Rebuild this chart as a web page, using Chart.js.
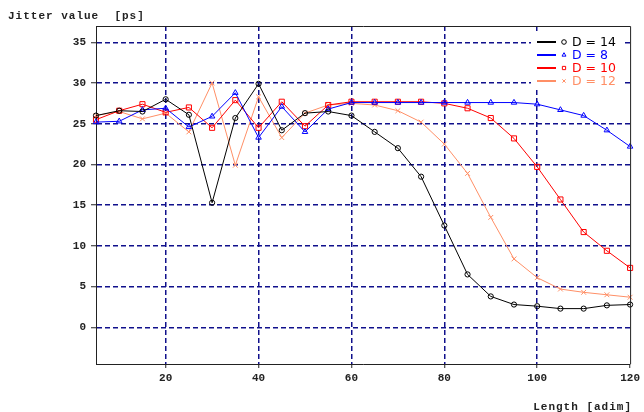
<!DOCTYPE html>
<html>
<head>
<meta charset="utf-8">
<script src="https://cdn.jsdelivr.net/npm/chart.js@4.4.1/dist/chart.umd.min.js"></script>
<style>
  body { margin: 0; background: #fff; }
</style>
</head>
<body>
<canvas id="jitterChart" width="644" height="412"></canvas>
<script>
// x values (Length, adim)
const lengths = [5, 10, 15, 20, 25, 30, 35, 40, 45, 50, 55, 60, 65, 70, 75, 80, 85, 90, 95, 100, 105, 110, 115, 120];

// jitter [ps]
const jitterD14 = [26.0, 26.6, 26.5, 28.0, 26.1, 15.3, 25.7, 29.9, 24.2, 26.3, 26.5, 26.0, 24.0, 22.0, 18.5, 12.5, 6.5, 3.8, 2.8, 2.6, 2.3, 2.3, 2.7, 2.8];
const jitterD8 = [25.2, 25.3, 26.7, 26.9, 24.6, 25.9, 28.8, 23.3, 27.1, 24.0, 26.8, 27.6, 27.6, 27.6, 27.6, 27.6, 27.6, 27.6, 27.6, 27.4, 26.7, 26.0, 24.2, 22.2];
const jitterD10 = [25.5, 26.6, 27.4, 26.4, 27.0, 24.5, 27.9, 24.5, 27.7, 24.7, 27.3, 27.7, 27.7, 27.7, 27.7, 27.5, 26.9, 25.7, 23.2, 19.7, 15.7, 11.7, 9.4, 7.3];
const jitterD12 = [26.0, 26.5, 25.6, 26.3, 24.0, 30.0, 19.9, 28.3, 23.3, 26.3, 27.3, 27.5, 27.3, 26.6, 25.2, 22.5, 18.9, 13.5, 8.4, 6.1, 4.7, 4.3, 4.0, 3.7];

const seriesLabels = ["D = 14", "D = 8", "D = 10", "D = 12"];
const xTicks = [20, 40, 60, 80, 100, 120];
const yTicks = [0, 5, 10, 15, 20, 25, 30, 35];

const COLORS = ["#000000", "#0000ff", "#ff0000", "#ff8f66"];
const POINT_STYLES = ["circle", "triangle", "rect", "crossRot"];
const POINT_RADIUS = [2.6, 3.2, 3.6, 3.4];
const GRID = "#10108c";
const MONO = '"Liberation Mono", "DejaVu Sans Mono", monospace';

function toPoints(ys) {
  return lengths.map((x, i) => ({ x: x, y: ys[i] }));
}

const allSeries = [jitterD14, jitterD8, jitterD10, jitterD12];

const datasets = allSeries.map((ys, i) => ({
  label: seriesLabels[i],
  data: toPoints(ys),
  borderColor: COLORS[i],
  backgroundColor: "rgba(0,0,0,0)",
  borderWidth: 1,
  pointStyle: POINT_STYLES[i],
  pointRadius: POINT_RADIUS[i],
  pointBorderWidth: 1,
  pointBorderColor: COLORS[i],
  pointBackgroundColor: "rgba(0,0,0,0)",
  tension: 0,
  clip: false,
}));

// frame, legend box and the two axis captions
const extrasPlugin = {
  id: "extras",
  afterDraw(chart) {
    const ctx = chart.ctx;
    const area = chart.chartArea;
    ctx.save();

    // top + right border of the plot box
    ctx.strokeStyle = "#222";
    ctx.lineWidth = 1;
    ctx.beginPath();
    ctx.moveTo(area.left, area.top + 0.5);
    ctx.lineTo(area.right + 0.5, area.top + 0.5);
    ctx.lineTo(area.right + 0.5, area.bottom);
    ctx.stroke();

    // legend (white box over the grid)
    ctx.fillStyle = "#fff";
    ctx.fillRect(531, 34, 91, 55);
    const rowY = [42, 55, 68, 81];
    ctx.textBaseline = "middle";
    ctx.textAlign = "left";
    seriesLabels.forEach((label, i) => {
      ctx.strokeStyle = COLORS[i];
      ctx.lineWidth = 2;
      ctx.beginPath();
      ctx.moveTo(537, rowY[i]);
      ctx.lineTo(556, rowY[i]);
      ctx.stroke();
      ctx.lineWidth = 1;
      ctx.fillStyle = "#fff";
      Chart.helpers.drawPoint(ctx, {
        pointStyle: POINT_STYLES[i],
        radius: 2.3,
        borderWidth: 1,
        rotation: 0,
      }, 564, rowY[i]);
      ctx.fillStyle = COLORS[i];
      ctx.font = '12.5px "DejaVu Sans"';
      ctx.fillText(label, 572, rowY[i] + 1);
    });

    // captions
    ctx.fillStyle = "#222";
    ctx.font = "bold 11px " + MONO;
    if ("letterSpacing" in ctx) ctx.letterSpacing = "1px";
    ctx.textBaseline = "middle";
    ctx.textAlign = "left";
    ctx.fillText("Jitter value  [ps]", 8, 16);
    ctx.textAlign = "right";
    ctx.fillText("Length [adim]", 632, 407);
    ctx.restore();
  },
};

new Chart(document.getElementById("jitterChart"), {
  type: "line",
  data: { datasets: datasets },
  options: {
    responsive: false,
    animation: false,
    events: [],
    layout: { padding: { top: 26, right: 13, left: 0, bottom: 0 } },
    plugins: {
      legend: { display: false },
      tooltip: { enabled: false },
    },
    scales: {
      x: {
        type: "linear",
        min: 5,
        max: 120,
        afterBuildTicks: (scale) => {
          scale.ticks = xTicks.map((v) => ({ value: v }));
        },
        afterFit: (scale) => {
          scale.height = 48;
        },
        grid: {
          // no dashed line on top of the right border
          color: (c) => (c.tick && c.tick.value === 120 ? "rgba(0,0,0,0)" : GRID),
          lineWidth: 1.5,
          tickColor: "#222",
          tickLength: 4,
          tickWidth: 1,
          tickBorderDash: [],
        },
        border: { color: "#222", width: 1, dash: [5, 3] },
        ticks: {
          color: "#222",
          padding: 4,
          maxRotation: 0,
          autoSkip: false,
          font: { family: MONO, size: 11, weight: "bold" },
        },
      },
      y: {
        type: "linear",
        min: -4.5,
        max: 37,
        afterBuildTicks: (scale) => {
          scale.ticks = yTicks.map((v) => ({ value: v }));
        },
        afterFit: (scale) => {
          scale.width = 96;
        },
        grid: {
          color: GRID,
          lineWidth: 1.5,
          tickColor: "#222",
          tickLength: 5,
          tickWidth: 1,
          tickBorderDash: [],
        },
        border: { color: "#222", width: 1, dash: [5, 3] },
        ticks: {
          color: "#222",
          padding: 5,
          autoSkip: false,
          font: { family: MONO, size: 11, weight: "bold" },
        },
      },
    },
  },
  plugins: [extrasPlugin],
});
</script>
</body>
</html>
